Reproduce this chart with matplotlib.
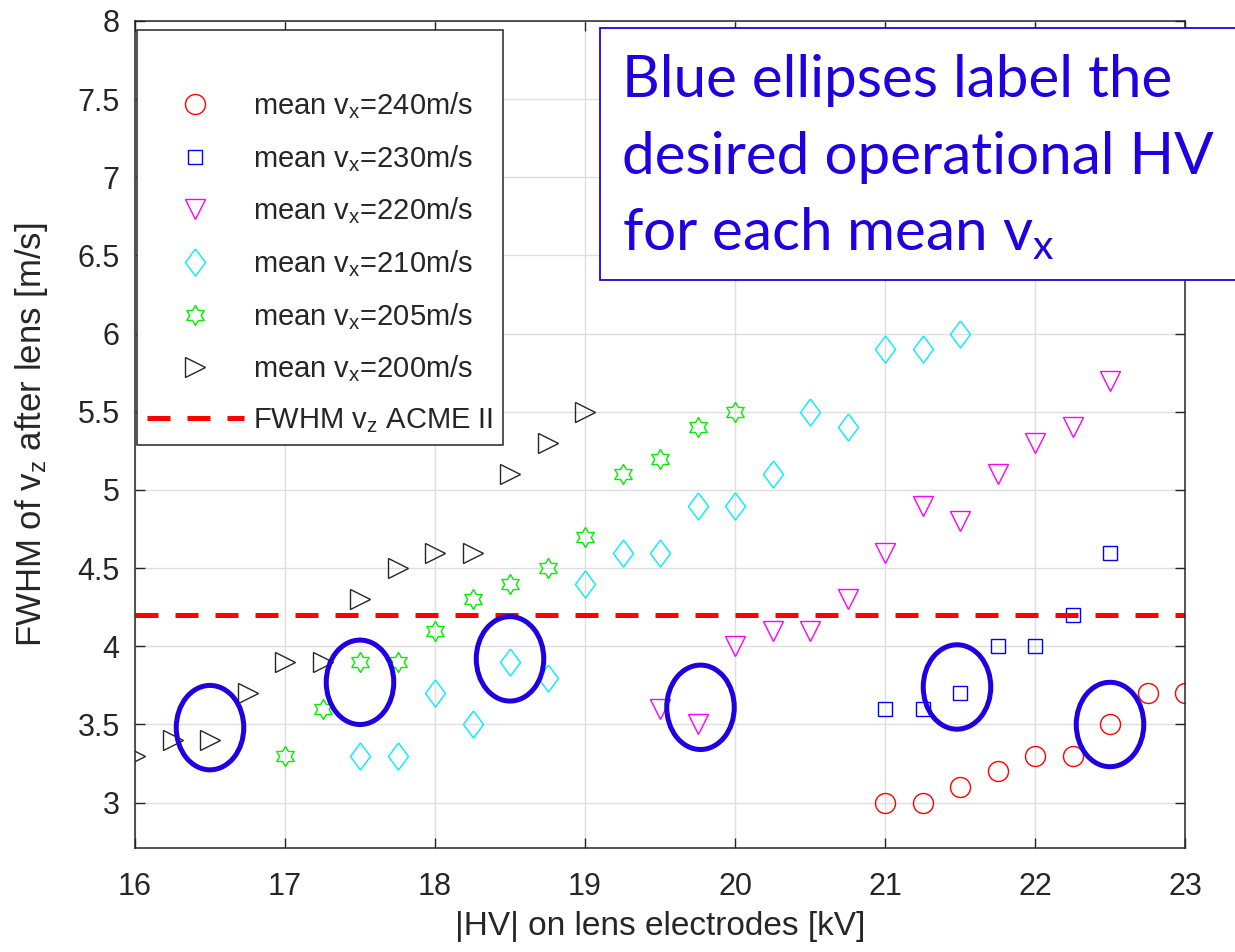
import matplotlib

matplotlib.use("Agg")
import matplotlib.pyplot as plt  # noqa: E402
import numpy as np
from matplotlib.lines import Line2D
from matplotlib.patches import Ellipse, Rectangle

plt.rcParams["font.family"] = ["Liberation Sans", "DejaVu Sans"]
plt.rcParams["mathtext.default"] = "regular"

# data: |HV| [kV] and FWHM of v_z [m/s]
hv_240 = [21, 21.25, 21.5, 21.75, 22, 22.25, 22.5, 22.75, 23]
fwhm_240 = [3.0, 3.0, 3.1, 3.2, 3.3, 3.3, 3.5, 3.7, 3.7]

hv_230 = [21, 21.25, 21.5, 21.75, 22, 22.25, 22.5]
fwhm_230 = [3.6, 3.6, 3.7, 4.0, 4.0, 4.2, 4.6]

hv_220 = [19.5, 19.75, 20, 20.25, 20.5, 20.75, 21, 21.25, 21.5, 21.75, 22, 22.25, 22.5]
fwhm_220 = [3.6, 3.5, 4.0, 4.1, 4.1, 4.3, 4.6, 4.9, 4.8, 5.1, 5.3, 5.4, 5.7]

hv_210 = [17.5, 17.75, 18, 18.25, 18.5, 18.75, 19, 19.25, 19.5,
          19.75, 20, 20.25, 20.5, 20.75, 21, 21.25, 21.5]
fwhm_210 = [3.3, 3.3, 3.7, 3.5, 3.9, 3.8, 4.4, 4.6, 4.6,
            4.9, 4.9, 5.1, 5.5, 5.4, 5.9, 5.9, 6.0]

hv_205 = [17, 17.25, 17.5, 17.75, 18, 18.25, 18.5, 18.75, 19, 19.25, 19.5, 19.75, 20]
fwhm_205 = [3.3, 3.6, 3.9, 3.9, 4.1, 4.3, 4.4, 4.5, 4.7, 5.1, 5.2, 5.4, 5.5]

hv_200 = [16, 16.25, 16.5, 16.75, 17, 17.25, 17.5, 17.75, 18, 18.25, 18.5, 18.75, 19]
fwhm_200 = [3.3, 3.4, 3.4, 3.7, 3.9, 3.9, 4.3, 4.5, 4.6, 4.6, 5.1, 5.3, 5.5]

acme_fwhm = 4.2

# operating points circled in blue
ellipse_hv = [16.5, 17.5, 18.5, 19.77, 21.48, 22.5]
ellipse_fwhm = [3.48, 3.77, 3.92, 3.61, 3.74, 3.5]

xtick_values = [16, 17, 18, 19, 20, 21, 22, 23]
ytick_values = [3, 3.5, 4, 4.5, 5, 5.5, 6, 6.5, 7, 7.5, 8]
ytick_labels = ["3", "3.5", "4", "4.5", "5", "5.5", "6", "6.5", "7", "7.5", "8"]

note_lines = ["Blue ellipses label the", "desired operational HV", "for each mean v$_x$"]

AX_COLOR = "#262626"
NOTE_BLUE = "#1f00e0"

# marker shapes
_ang = np.deg2rad(90 + 30 * np.arange(13))
_rad = np.where(np.arange(13) % 2 == 0, 1.0, 0.577)
HEXAGRAM = list(zip(_rad * np.cos(_ang), _rad * np.sin(_ang)))
DIAMOND = [(0, 1), (0.74, 0), (0, -1), (-0.74, 0), (0, 1)]

series = [
    (hv_240, fwhm_240, "o", "#ff0000", 14.4, "240"),
    (hv_230, fwhm_230, "s", "#0000ff", 9.5, "230"),
    (hv_220, fwhm_220, "v", "#ff00ff", 15.0, "220"),
    (hv_210, fwhm_210, DIAMOND, "#00eeff", 19.5, "210"),
    (hv_205, fwhm_205, HEXAGRAM, "#00ee00", 14.4, "205"),
    (hv_200, fwhm_200, ">", AX_COLOR, 14.5, "200"),
]

fig = plt.figure(figsize=(12.35, 9.52), dpi=100)
ax = fig.add_axes([135 / 1235, 1 - 848 / 952, 1050 / 1235, 827 / 952])

handles = [Line2D([], [], linestyle="none")]
labels = [" "]
for xs, ys, mk, col, ms, vx in series:
    (ln,) = ax.plot(xs, ys, linestyle="none", marker=mk, markersize=ms,
                    markerfacecolor="none", markeredgecolor=col, markeredgewidth=1.0)
    handles.append(ln)
    labels.append(f"mean v$_x$={vx}m/s")

acme = ax.axhline(acme_fwhm, color="#ff0000", lw=3.6, dashes=(4.6, 3.4),
                  dash_capstyle="butt")
handles.append(acme)
labels.append("FWHM v$_z$ ACME II")

for ex, ey in zip(ellipse_hv, ellipse_fwhm):
    ax.add_patch(Ellipse((ex, ey), width=0.45, height=0.54, fill=False,
                         edgecolor=NOTE_BLUE, lw=3.6, zorder=5))

ax.set_xlim(16, 23)
ax.set_ylim(2.71, 8)
ax.set_xticks(xtick_values)
ax.set_yticks(ytick_values)
ax.set_yticklabels(ytick_labels)
ax.grid(True, color="#dedede", lw=1.0)
ax.set_axisbelow(True)
ax.tick_params(direction="in", length=7, width=1.0, top=True, right=True,
               labelsize=22, colors=AX_COLOR)
ax.tick_params(axis="x", pad=17)
ax.tick_params(axis="y", pad=11)
for sp in ax.spines.values():
    sp.set_color(AX_COLOR)
    sp.set_linewidth(1.1)

ax.set_xlabel("|HV| on lens electrodes [kV]", fontsize=24, color=AX_COLOR)
ax.set_ylabel("FWHM of v$_z$ after lens [m/s]", fontsize=25, color=AX_COLOR)
ax.xaxis.set_label_coords(0.5, -0.076)
ax.yaxis.set_label_coords(-0.081, 0.5)

leg = ax.legend(handles, labels, loc="upper left", bbox_to_anchor=(0.002, 0.989),
                borderaxespad=0, fontsize=21, handlelength=3.3, handletextpad=0.31,
                borderpad=0.35, labelspacing=0.75, fancybox=False, framealpha=1,
                edgecolor=AX_COLOR)
leg.get_frame().set_linewidth(1.1)
for t in leg.get_texts():
    t.set_color(AX_COLOR)

# annotation box in the upper right, running off the figure edge
ax.add_patch(Rectangle((600 / 1235, 1 - 280 / 952), 0.6, 252 / 952,
                       transform=fig.transFigure, clip_on=False, facecolor="white",
                       edgecolor=NOTE_BLUE, lw=1.3, zorder=10))
for i, line in enumerate(note_lines):
    ax.text(622 / 1235, 1 - (97 + 76.5 * i) / 952, line, transform=fig.transFigure,
            fontsize=42, family="Lato", color=NOTE_BLUE, va="baseline",
            clip_on=False, zorder=11)

fig.savefig("out.png", dpi=100)
